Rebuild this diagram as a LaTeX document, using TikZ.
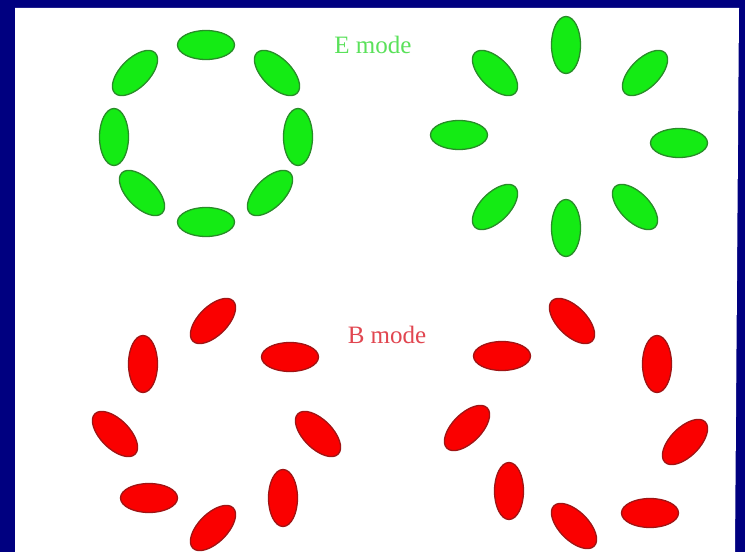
\documentclass[tikz,border=0pt]{standalone}
\usepackage{fontspec}
\setmainfont{Liberation Serif}
\definecolor{navy}{RGB}{0,0,128}
\definecolor{gfill}{RGB}{20,235,20}
\definecolor{gline}{RGB}{40,140,40}
\definecolor{rfill}{RGB}{250,0,0}
\definecolor{rline}{RGB}{160,20,20}
\definecolor{gtext}{RGB}{90,225,90}
\definecolor{rtext}{RGB}{225,70,80}
\tikzset{
  gel/.style={fill=gfill, draw=gline, line width=1.3pt},
  rel/.style={fill=rfill, draw=rline, line width=1.3pt},
  lbl/.style={font=\fontsize{25}{25}\selectfont, inner sep=0pt}
}
\newcommand\Ell[4]{\path[#1, rotate around={#4:(#2,552-#3)}] (#2,552-#3) ellipse [x radius=28.5, y radius=14.5];}
\begin{document}
\begin{tikzpicture}[x=1pt,y=1pt]
\useasboundingbox (0,0) rectangle (745,552);
\fill[navy] (0,0) rectangle (745,552);
\fill[white] (15,0) -- (15,544) -- (739,544) -- (735,0) -- cycle;
% E mode, left ring
\Ell{gel}{206}{45}{0}
\Ell{gel}{206}{222}{0}
\Ell{gel}{114}{137}{90}
\Ell{gel}{298}{137}{90}
\Ell{gel}{135}{73}{45}
\Ell{gel}{277}{73}{-45}
\Ell{gel}{142}{193}{-45}
\Ell{gel}{270}{193}{45}
% E mode, right ring
\Ell{gel}{566}{45}{90}
\Ell{gel}{566}{228}{90}
\Ell{gel}{459}{135}{0}
\Ell{gel}{679}{143}{0}
\Ell{gel}{495}{73}{-45}
\Ell{gel}{645}{73}{45}
\Ell{gel}{495}{207}{45}
\Ell{gel}{635}{207}{-45}
% B mode, left ring
\Ell{rel}{213}{321}{45}
\Ell{rel}{290}{357}{0}
\Ell{rel}{143}{364}{90}
\Ell{rel}{115}{434}{-45}
\Ell{rel}{318}{434}{-45}
\Ell{rel}{149}{498}{0}
\Ell{rel}{283}{498}{90}
\Ell{rel}{213}{528}{45}
% B mode, right ring
\Ell{rel}{572}{321}{-45}
\Ell{rel}{502}{356}{0}
\Ell{rel}{657}{364}{90}
\Ell{rel}{467}{428}{45}
\Ell{rel}{685}{442}{45}
\Ell{rel}{509}{491}{90}
\Ell{rel}{650}{513}{0}
\Ell{rel}{574}{526}{-45}
% labels
\node[lbl, text=gtext] (emode) at (373,552-45) {E mode};
\node[lbl, text=rtext] (bmode) at (387,552-335) {B mode};
\end{tikzpicture}
\end{document}
